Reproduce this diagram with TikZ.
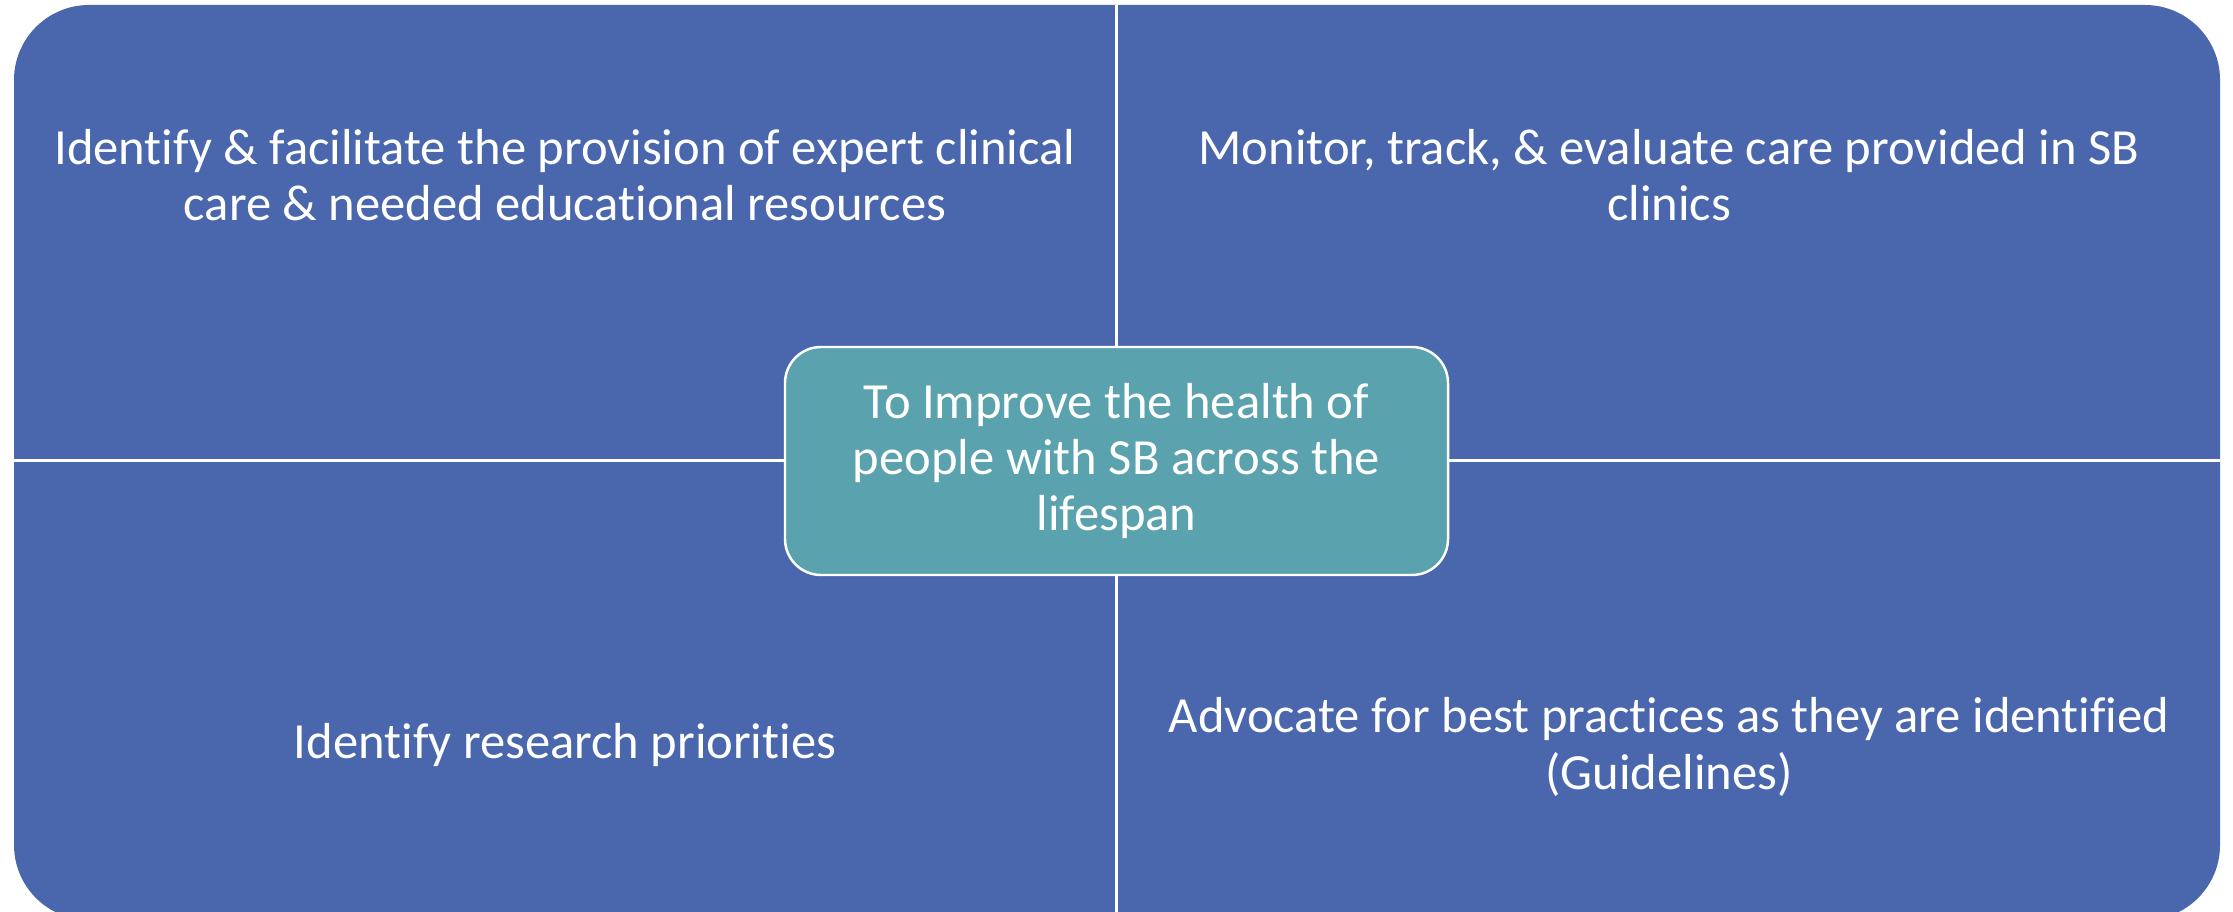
\documentclass[tikz,border=0pt]{standalone}
\usepackage{fontspec}
\setmainfont{Carlito}[Ligatures=NoCommon]
\definecolor{quadblue}{RGB}{74,103,173}
\definecolor{hubteal}{RGB}{91,162,175}
\tikzset{
  quadtext/.style = {text=white, align=center, inner sep=0pt,
                     font=\fontsize{14.4}{16}\selectfont},
  hubbox/.style   = {quadtext, draw=white, line width=0.7pt, fill=hubteal,
                     rounded corners=3.6mm, minimum width=66.3mm,
                     minimum height=22.8mm},
}
\begin{document}
\begin{tikzpicture}[x=0.1mm, y=-0.1mm]
    \useasboundingbox (0,0) rectangle (2233,912);
    \begin{scope}
      %% outer matrix
      \clip[rounded corners=7.5mm] (14,5) rectangle (2220,920);
      \fill[quadblue] (0,0) rectangle (2233,920);
      %% dividers
      \draw[white, line width=0.9pt] (1116.5,0) -- (1116.5,920);
      \draw[white, line width=0.9pt] (0,460.5) -- (2233,460.5);
    \end{scope}

    \node[quadtext] (care) at (565,175)
      {Identify \& facilitate the provision of expert clinical\\care \& needed educational resources};
    \node[quadtext] (monitor) at (1669,175)
      {Monitor, track, \& evaluate care provided in SB\\clinics};
    \node[quadtext] (research) at (565,745) {Identify research priorities};
    \node[quadtext] (advocate) at (1669,747)
      {Advocate for best practices as they are identified\\(Guidelines)};

    \node[hubbox] (goal) at (1116.5,461)
      {To Improve the health of\\people with SB across the\\lifespan};
\end{tikzpicture}
\end{document}
